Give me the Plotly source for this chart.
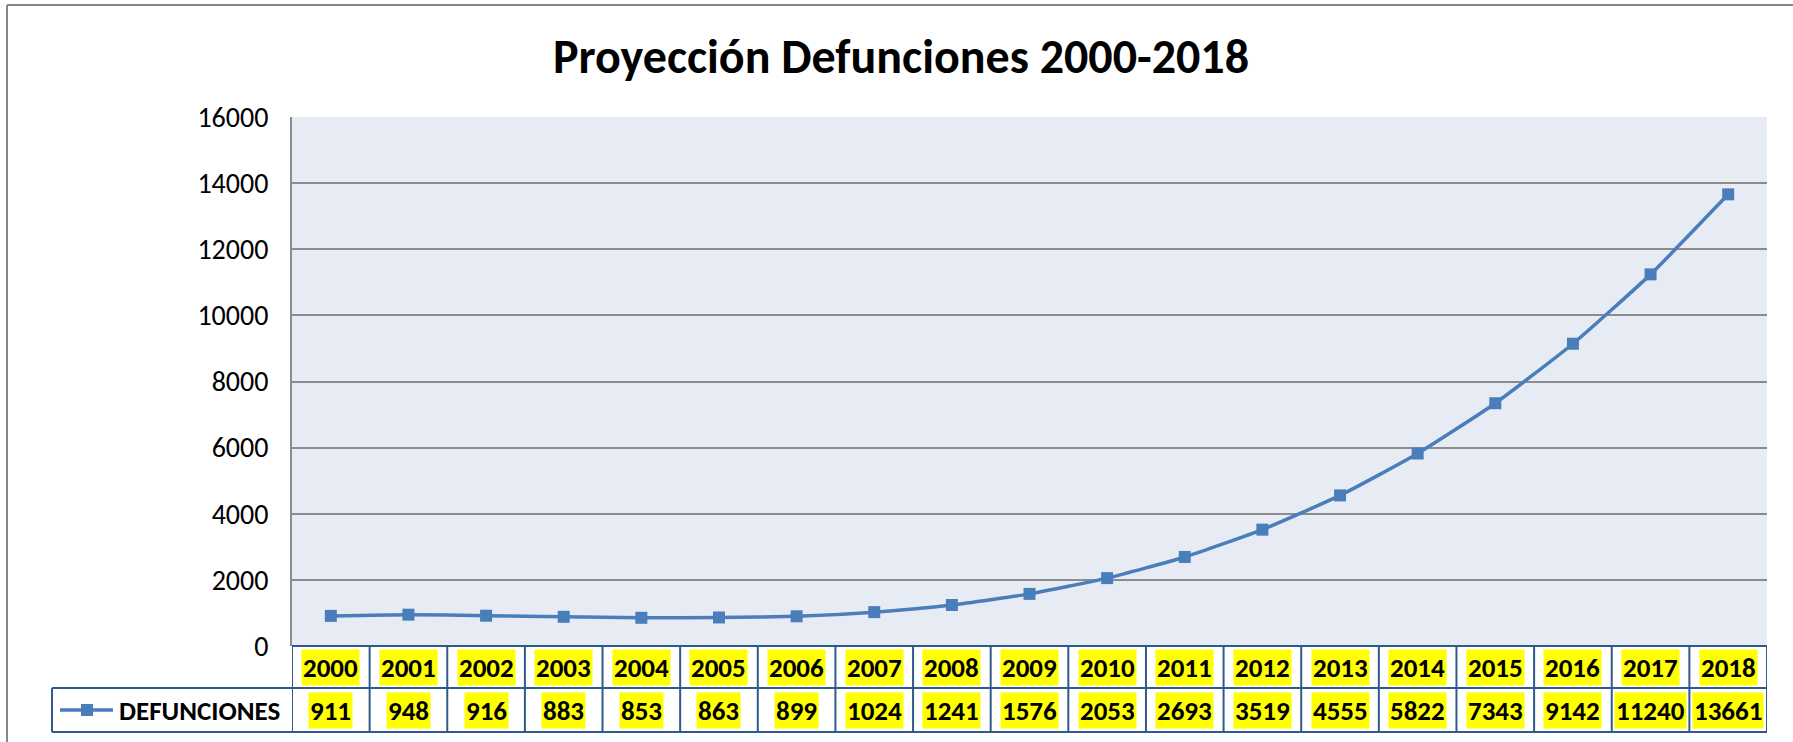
import plotly.graph_objects as go

# ---- data ----
years = [2000, 2001, 2002, 2003, 2004, 2005, 2006, 2007, 2008, 2009,
         2010, 2011, 2012, 2013, 2014, 2015, 2016, 2017, 2018]
defunciones = [911, 948, 916, 883, 853, 863, 899, 1024, 1241, 1576,
               2053, 2693, 3519, 4555, 5822, 7343, 9142, 11240, 13661]
series_name = "DEFUNCIONES"
title_text = "Proyección Defunciones 2000-2018"
y_ticks = [0, 2000, 4000, 6000, 8000, 10000, 12000, 14000, 16000]

# ---- layout geometry (pixels) ----
W, H = 1793, 742
L, R, T, B = 292, 1767, 117, 646
PW, PH = R - L, B - T

def px(p):
    return (p - L) / PW

def py(p):
    return (B - p) / PH

FONT = "Carlito, Calibri, Lato, sans-serif"
BLUE = "#4A7EBB"
TBL = "#2F5A8C"

fig = go.Figure()
fig.add_trace(go.Scatter(
    x=years, y=defunciones, name=series_name, mode="lines+markers",
    line=dict(color=BLUE, width=3.5, shape="spline", smoothing=0.5),
    marker=dict(symbol="square", size=12, color=BLUE),
    showlegend=False,
))

shapes = []
annotations = []

# table grid
row_top, row_mid, row_bot = 646, 688, 732
shapes.append(dict(type="line", xref="paper", yref="paper",
                   x0=px(L), x1=px(R), y0=py(row_top), y1=py(row_top),
                   line=dict(color=TBL, width=2)))
for yy in (row_mid, row_bot):
    shapes.append(dict(type="line", xref="paper", yref="paper",
                       x0=px(52), x1=px(R), y0=py(yy), y1=py(yy),
                       line=dict(color=TBL, width=2)))
shapes.append(dict(type="line", xref="paper", yref="paper",
                   x0=px(52), x1=px(52), y0=py(row_mid), y1=py(row_bot),
                   line=dict(color=TBL, width=2)))
edges = [years[0] - 0.5] + [y + 0.5 for y in years]
for e in edges:
    shapes.append(dict(type="line", xref="x", yref="paper",
                       x0=e, x1=e, y0=py(row_top), y1=py(row_bot),
                       line=dict(color=TBL, width=2)))

# legend key inside the table's first cell
key_y = py((row_mid + row_bot) / 2)
shapes.append(dict(type="line", xref="paper", yref="paper",
                   x0=px(60), x1=px(113), y0=key_y, y1=key_y,
                   line=dict(color=BLUE, width=3.5)))
shapes.append(dict(type="rect", xref="paper", yref="paper",
                   x0=px(81), x1=px(93), y0=key_y - 6 / PH, y1=key_y + 6 / PH,
                   line=dict(width=0), fillcolor=BLUE))
annotations.append(dict(x=px(117), y=key_y, xref="paper", yref="paper",
                        xanchor="left", yanchor="middle",
                        text=f"<b>{series_name}</b>", showarrow=False,
                        font=dict(family=FONT, size=27, color="black")))

# outer chart border (top and left)
shapes.append(dict(type="line", xref="paper", yref="paper",
                   x0=px(7), x1=px(7), y0=py(5), y1=py(760),
                   line=dict(color="#868686", width=2)))
shapes.append(dict(type="line", xref="paper", yref="paper",
                   x0=px(7), x1=px(1800), y0=py(5), y1=py(5),
                   line=dict(color="#868686", width=2)))

for yr, v in zip(years, defunciones):
    annotations.append(dict(x=yr, y=py((row_top + row_mid) / 2), xref="x", yref="paper",
                            xanchor="center", yanchor="middle",
                            text=f"<b>{yr}</b>", showarrow=False, bgcolor="#FFFF00",
                            borderpad=1, font=dict(family=FONT, size=27, color="black")))
    annotations.append(dict(x=yr, y=py((row_mid + row_bot) / 2), xref="x", yref="paper",
                            xanchor="center", yanchor="middle",
                            text=f"<b>{v}</b>", showarrow=False, bgcolor="#FFFF00",
                            borderpad=1, font=dict(family=FONT, size=27, color="black")))

fig.update_layout(
    width=W, height=H,
    margin=dict(l=L, r=W - R, t=T, b=H - B, autoexpand=False),
    paper_bgcolor="white",
    plot_bgcolor="#E7ECF4",
    title=dict(text=f"<b>{title_text}</b>", x=901 / W, xanchor="center",
               y=1 - 56 / H, yanchor="middle", xref="container", yref="container",
               font=dict(family=FONT, size=48, color="black")),
    xaxis=dict(range=[years[0] - 0.5, years[-1] + 0.5], showticklabels=False,
               showgrid=False, zeroline=False, showline=False, ticks=""),
    yaxis=dict(range=[0, 16000], tickvals=y_ticks, ticktext=[str(t) for t in y_ticks],
               showgrid=True, gridcolor="#8C8C8C", gridwidth=2, zeroline=False,
               showline=True, linecolor="#8C8C8C", linewidth=2, ticks="",
               ticklabelstandoff=16,
               tickfont=dict(family=FONT, size=28, color="black")),
    showlegend=False,
    shapes=shapes,
    annotations=annotations,
)

fig.write_html("out.html", config={"displayModeBar": False},
               post_script="document.body.style.margin='0';")
